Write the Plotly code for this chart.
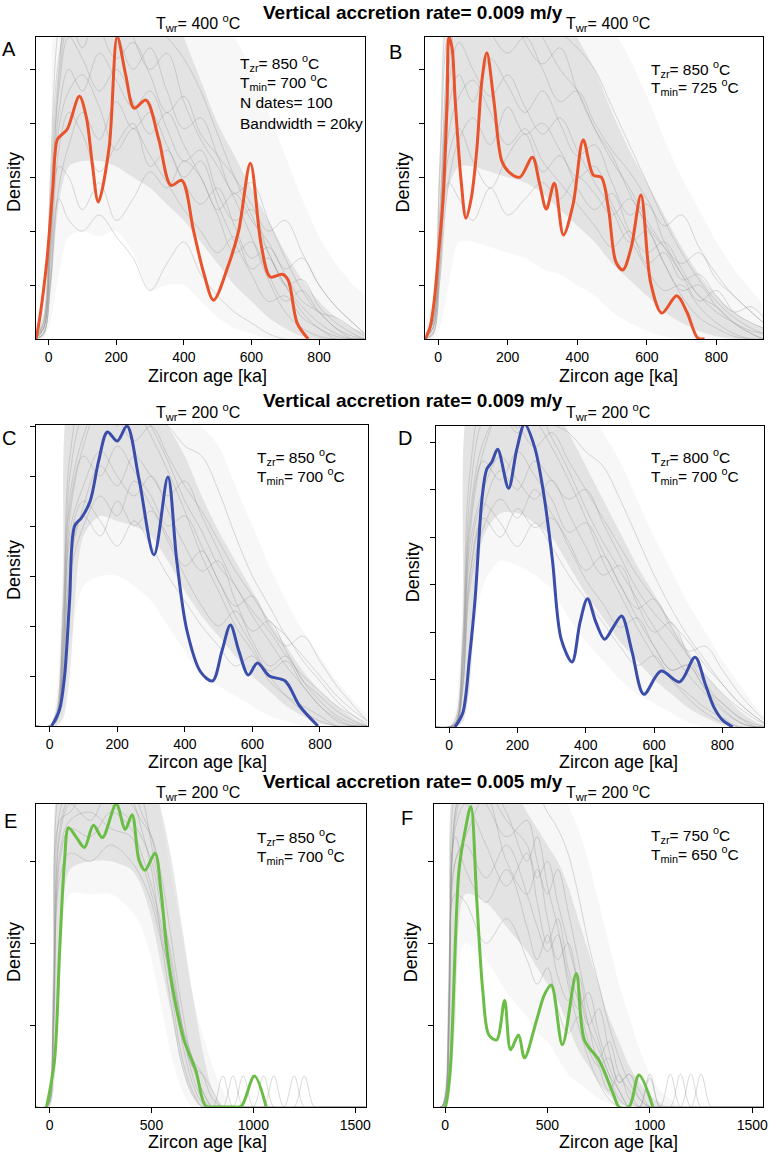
import plotly.graph_objects as go

W, H = 779, 1156
FONT = "Liberation Sans, Arial, Helvetica, sans-serif"
ORANGE = "#E9532B"
BLUE = "#3A4DAB"
GREEN = "#6ABD45"

# ---------------- x grids for the grey ensemble curves ----------------
AB_grid = [-40, -15, 5, 30, 60, 100, 150, 200, 250, 300, 350, 400, 450, 500, 550, 600, 650, 700, 750, 800, 850, 900, 935]
CD_grid = [-40, 0, 20, 40, 60, 100, 150, 200, 250, 300, 350, 400, 450, 500, 550, 600, 650, 700, 750, 800, 850, 900, 940]
EF_grid = [-70, -20, 0, 20, 50, 100, 200, 300, 400, 450, 500, 550, 600, 650, 700, 750, 800, 850, 900, 950, 1000, 1050, 1100, 1150, 1200, 1250, 1300, 1350, 1550]

# ---------------- panel A ----------------
A_x = [-38, -32, -6, 12, 26, 41, 56, 91, 112, 129, 147, 179, 203, 228, 253, 288, 326, 362, 394, 429, 460, 488, 532, 562, 597, 629, 656, 691, 709, 735, 768]
A_y = [0, 0.17, 1.4, 2.76, 3.7, 3.8, 3.9, 4.5, 4.1, 3.26, 2.54, 3.55, 5.6, 4.9, 4.28, 4.43, 3.7, 2.85, 2.94, 2.0, 1.2, 0.72, 1.37, 2.0, 3.26, 1.74, 1.15, 1.2, 1.09, 0.3, 0]
A_gray = [
    [0, 0.3, 2.5, 5.0, 6.2, 5.8, 6.5, 5.9, 6.3, 5.9, 5.6, 5.2, 4.6, 3.8, 3.0, 2.3, 1.6, 1.0, 0.6, 0.3, 0.1, 0, 0],
    [0, 0.2, 1.8, 4.2, 5.0, 4.6, 5.3, 4.8, 4.3, 4.6, 3.9, 3.3, 3.5, 2.7, 2.2, 2.4, 1.6, 1.0, 0.5, 0.2, 0.05, 0, 0],
    [0, 0.1, 1.2, 3.5, 4.2, 3.8, 3.1, 3.6, 4.0, 3.2, 3.5, 2.9, 2.5, 2.8, 2.1, 1.5, 1.7, 1.2, 0.7, 0.5, 0.2, 0.05, 0],
    [0, 0.4, 3.0, 5.8, 6.5, 6.8, 6.0, 6.4, 5.6, 5.0, 5.3, 4.4, 3.7, 3.2, 2.6, 1.9, 1.1, 0.5, 0.2, 0.05, 0, 0, 0],
    [0, 0.2, 1.5, 3.2, 3.0, 2.4, 2.9, 2.2, 2.6, 3.1, 2.8, 3.3, 3.0, 2.4, 2.7, 2.2, 1.8, 1.3, 1.5, 1.0, 0.6, 0.3, 0.1],
    [0, 0.3, 2.2, 4.6, 5.6, 5.2, 4.6, 5.0, 4.4, 3.8, 4.2, 3.6, 3.0, 2.3, 1.6, 1.8, 1.2, 0.7, 0.9, 0.5, 0.2, 0, 0],
    [0, 0.2, 1.9, 4.8, 6.0, 6.6, 5.8, 5.2, 5.5, 4.9, 4.2, 4.5, 3.8, 3.4, 3.0, 2.5, 2.0, 2.2, 1.6, 1.0, 0.6, 0.3, 0.1],
    [0, 0.1, 1.0, 2.8, 3.6, 4.2, 3.7, 4.4, 3.9, 4.2, 3.6, 3.0, 3.3, 2.5, 1.8, 1.2, 0.7, 0.8, 0.4, 0.2, 0, 0, 0],
    [0, 0.3, 2.6, 5.2, 5.9, 5.4, 6.2, 5.7, 5.0, 5.4, 4.6, 3.9, 4.1, 3.4, 2.7, 2.9, 2.2, 1.5, 0.9, 0.5, 0.4, 0.2, 0.05],
    [0, 0.2, 1.6, 3.9, 4.6, 4.9, 4.3, 3.5, 3.9, 3.4, 2.9, 2.4, 2.0, 1.6, 1.9, 1.3, 1.5, 1.0, 1.1, 0.6, 0.3, 0.1, 0],
    [0, 0.1, 1.0, 2.6, 2.2, 2.0, 2.3, 1.9, 1.5, 0.9, 1.4, 1.8, 1.2, 0.8, 0.5, 0.3, 0.1, 0, 0, 0, 0, 0, 0],
]
A_outer_lo = [0, 0, 0.3, 1.2, 1.9, 2.0, 1.9, 2.0, 1.6, 0.9, 1.0, 1.0, 0.7, 0.4, 0.2, 0.1, 0, 0, 0, 0, 0, 0, 0]
A_outer_hi = [0, 0.6, 3.0, 6.5, 6.5, 6.5, 6.5, 6.5, 6.5, 6.5, 6.5, 6.5, 6.5, 6.2, 5.6, 5.0, 4.2, 3.4, 2.6, 1.9, 1.4, 1.0, 0.8]
A_core_lo = [0, 0.05, 0.8, 2.5, 3.2, 3.3, 3.3, 3.2, 3.0, 2.8, 2.5, 2.2, 1.8, 1.4, 1.0, 0.7, 0.4, 0.2, 0.05, 0, 0, 0, 0]
A_core_hi = [0, 0.3, 2.0, 5.0, 6.5, 6.5, 6.5, 6.5, 6.5, 6.5, 6.5, 5.6, 4.8, 4.0, 3.4, 2.8, 2.2, 1.6, 1.1, 0.7, 0.4, 0.2, 0.1]

# ---------------- panel B ----------------
B_x = [-37, -23, -11, 0, 14, 26, 31, 40, 49, 66, 80, 95, 111, 126, 140, 160, 183, 203, 235, 271, 291, 311, 334, 360, 388, 417, 446, 469, 490, 511, 531, 555, 583, 611, 643, 686, 715, 746, 766]
B_y = [0, 0.22, 0.72, 1.5, 2.57, 4.43, 5.6, 5.4, 4.43, 2.94, 2.24, 2.6, 3.5, 4.8, 5.31, 4.43, 3.3, 3.1, 3.0, 3.37, 2.9, 2.41, 2.89, 1.93, 2.5, 3.69, 3.04, 3.0, 2.4, 1.43, 1.28, 1.7, 2.67, 1.04, 0.48, 0.8, 0.5, 0.02, 0]
B_gray = [
    [0, 0.4, 3.0, 5.8, 6.3, 5.9, 6.4, 5.8, 6.1, 5.6, 5.0, 4.6, 3.9, 3.3, 2.8, 2.2, 1.7, 1.2, 0.8, 0.5, 0.3, 0.15, 0.1],
    [0, 0.2, 1.8, 4.3, 4.9, 4.4, 5.2, 4.7, 4.2, 4.6, 4.0, 3.4, 3.6, 2.9, 2.3, 2.5, 1.8, 1.2, 0.7, 0.9, 0.5, 0.3, 0.2],
    [0, 0.1, 1.3, 3.4, 3.9, 3.3, 2.8, 3.4, 3.8, 3.1, 3.4, 2.8, 2.4, 2.7, 2.0, 1.6, 1.8, 1.3, 0.8, 0.6, 0.3, 0.1, 0],
    [0, 0.5, 3.3, 6.2, 6.6, 6.2, 5.7, 6.3, 5.5, 5.1, 5.4, 4.6, 3.9, 3.4, 2.7, 2.1, 1.4, 0.8, 0.4, 0.2, 0.05, 0, 0],
    [0, 0.2, 1.4, 2.9, 2.6, 2.2, 2.8, 2.3, 2.6, 2.9, 2.6, 3.0, 2.7, 2.3, 2.6, 2.1, 1.7, 1.4, 1.6, 1.1, 0.8, 0.5, 0.3],
    [0, 0.3, 2.2, 4.7, 5.5, 5.0, 4.5, 4.9, 4.3, 3.8, 4.1, 3.5, 2.9, 2.4, 1.8, 2.0, 1.4, 0.9, 1.0, 0.6, 0.3, 0.1, 0],
    [0, 0.3, 2.0, 5.0, 6.1, 6.5, 5.7, 5.3, 5.6, 5.0, 4.4, 4.6, 4.0, 3.5, 3.1, 2.6, 2.1, 2.3, 1.7, 1.2, 0.8, 0.5, 0.3],
    [0, 0.1, 1.1, 2.9, 3.7, 4.1, 3.6, 4.3, 3.8, 4.0, 3.5, 3.0, 3.2, 2.5, 1.9, 1.3, 0.9, 1.0, 0.6, 0.3, 0.1, 0, 0],
    [0, 0.2, 1.6, 3.8, 4.5, 4.8, 4.2, 3.6, 3.9, 3.3, 2.9, 2.5, 2.1, 1.7, 2.0, 1.4, 1.6, 1.1, 1.2, 0.8, 0.5, 0.6, 0.4],
    [0, 0.3, 2.4, 5.4, 6.4, 6.0, 6.6, 6.1, 6.4, 6.0, 5.7, 5.4, 5.0, 4.3, 3.6, 2.9, 2.2, 1.6, 1.1, 0.7, 0.4, 0.2, 0.1],
]
B_outer_lo = [0, 0, 0.2, 1.0, 1.8, 1.8, 1.7, 1.6, 1.5, 1.3, 1.2, 1.0, 0.8, 0.5, 0.3, 0.15, 0.05, 0, 0, 0, 0, 0, 0]
B_outer_hi = [0, 0.8, 3.5, 6.5, 6.5, 6.5, 6.5, 6.5, 6.5, 6.5, 6.5, 6.5, 6.5, 5.8, 5.2, 4.5, 3.7, 3.0, 2.4, 1.8, 1.3, 0.9, 0.6]
B_core_lo = [0, 0.05, 1.0, 2.8, 3.2, 3.2, 3.1, 3.0, 2.9, 2.7, 2.4, 2.1, 1.8, 1.4, 1.1, 0.8, 0.5, 0.3, 0.15, 0.05, 0, 0, 0]
B_core_hi = [0, 0.4, 2.5, 5.5, 6.5, 6.5, 6.5, 6.5, 6.5, 6.5, 6.5, 5.6, 5.0, 4.2, 3.5, 2.9, 2.3, 1.7, 1.2, 0.8, 0.5, 0.3, 0.2]

# ---------------- panel C ----------------
C_x = [6, 29, 44, 59, 74, 94, 120, 145, 171, 200, 229, 265, 309, 350, 376, 406, 447, 482, 510, 535, 560, 588, 615, 650, 697, 740, 794]
C_y = [0, 0.32, 0.98, 2.5, 4.0, 4.16, 4.5, 5.3, 5.88, 5.7, 6.0, 4.92, 3.42, 4.98, 3.32, 1.92, 1.08, 0.9, 1.5, 2.02, 1.5, 1.02, 1.26, 1.0, 0.9, 0.4, 0]
C_gray = [
    [0, 0, 0.2, 2.0, 4.6, 5.8, 6.5, 6.1, 6.6, 6.0, 5.3, 4.5, 3.9, 3.2, 2.8, 2.2, 1.7, 1.2, 0.8, 0.4, 0.15, 0, 0],
    [0, 0, 0.1, 1.5, 3.9, 4.8, 5.5, 5.0, 4.6, 5.0, 4.3, 3.6, 3.1, 3.3, 2.5, 1.9, 2.1, 1.5, 0.9, 0.5, 0.2, 0.05, 0],
    [0, 0, 0.1, 1.2, 3.4, 4.2, 3.8, 4.5, 4.0, 4.3, 3.7, 3.0, 2.4, 2.0, 2.3, 1.7, 1.2, 1.4, 0.9, 0.6, 0.3, 0.1, 0],
    [0, 0, 0.3, 2.5, 5.4, 6.6, 6.2, 6.8, 6.4, 5.8, 5.1, 4.3, 3.4, 2.7, 2.0, 1.5, 1.0, 0.6, 0.3, 0.1, 0, 0, 0],
    [0, 0, 0.1, 1.0, 3.0, 4.0, 4.6, 4.2, 4.9, 4.4, 3.8, 3.2, 3.5, 2.9, 2.4, 2.6, 2.0, 1.6, 1.8, 1.3, 0.8, 0.4, 0.1],
    [0, 0, 0.2, 1.8, 4.4, 5.4, 5.0, 5.6, 5.1, 4.6, 4.0, 4.2, 3.6, 2.9, 2.2, 1.6, 1.1, 1.3, 0.8, 0.4, 0.1, 0, 0],
    [0, 0, 0.2, 2.2, 5.0, 6.3, 6.8, 6.2, 5.7, 6.0, 5.4, 4.8, 4.3, 3.7, 3.1, 2.6, 2.1, 1.8, 1.3, 0.9, 0.5, 0.2, 0],
    [0, 0, 0.1, 1.4, 3.7, 4.5, 4.1, 3.6, 4.1, 3.6, 3.0, 2.5, 2.0, 1.6, 1.2, 1.4, 0.9, 0.6, 0.4, 0.2, 0, 0, 0],
    [0, 0, 0.1, 1.1, 3.2, 4.4, 5.2, 4.8, 5.4, 5.0, 4.6, 4.9, 4.2, 3.5, 2.8, 2.3, 1.9, 1.4, 1.0, 0.7, 0.4, 0.2, 0.05],
    [0, 0, 0.1, 1.6, 4.2, 5.6, 6.4, 6.0, 6.5, 6.2, 6.0, 5.6, 5.4, 4.7, 3.8, 3.0, 2.4, 1.8, 1.4, 1.0, 0.6, 0.3, 0.1],
]
C_outer_lo = [0, 0, 0, 0.3, 1.5, 2.8, 3.0, 3.0, 2.8, 2.5, 2.0, 1.5, 1.0, 0.8, 0.6, 0.4, 0.2, 0.1, 0, 0, 0, 0, 0]
C_outer_hi = [0, 0, 0.6, 3.5, 6.5, 6.5, 6.5, 6.5, 6.5, 6.5, 6.5, 6.5, 6.0, 5.6, 4.8, 4.0, 3.2, 2.5, 1.9, 1.4, 0.9, 0.5, 0.2]
C_core_lo = [0, 0, 0, 0.15, 1.0, 3.8, 4.2, 4.1, 4.0, 3.8, 3.3, 2.7, 2.2, 1.8, 1.4, 1.0, 0.7, 0.4, 0.2, 0.05, 0, 0, 0]
C_core_hi = [0, 0, 0.3, 2.5, 6.5, 6.5, 6.5, 6.5, 6.5, 6.5, 6.0, 5.4, 4.6, 3.9, 3.3, 2.7, 2.1, 1.6, 1.1, 0.7, 0.4, 0.15, 0]

# ---------------- panel D ----------------
D_x = [17, 40, 60, 76, 96, 110, 125, 142, 174, 198, 221, 250, 276, 302, 328, 360, 383, 405, 430, 455, 480, 505, 535, 570, 620, 675, 720, 750, 775, 800, 830]
D_y = [0, 0.3, 1.5, 2.7, 4.8, 5.43, 5.58, 5.85, 5.03, 5.85, 6.38, 5.9, 4.95, 3.54, 1.85, 1.37, 2.2, 2.7, 2.2, 1.85, 2.1, 2.34, 1.6, 0.69, 1.18, 0.95, 1.47, 0.9, 0.42, 0.15, 0]
D_gray = [
    [0, 0, 0.1, 1.6, 4.4, 6.0, 6.6, 6.2, 6.7, 6.1, 5.4, 4.6, 3.9, 3.3, 2.7, 2.1, 1.6, 1.1, 0.7, 0.35, 0.1, 0, 0],
    [0, 0, 0.1, 1.2, 3.8, 5.0, 5.7, 5.2, 4.8, 5.2, 4.5, 3.8, 3.2, 3.4, 2.6, 2.0, 2.2, 1.5, 0.9, 0.5, 0.2, 0.05, 0],
    [0, 0, 0.05, 0.9, 3.2, 4.4, 4.0, 4.6, 4.2, 4.4, 3.8, 3.1, 2.6, 2.1, 2.3, 1.7, 1.2, 1.3, 0.8, 0.5, 0.2, 0, 0],
    [0, 0, 0.2, 2.0, 5.3, 6.8, 6.4, 6.9, 6.5, 5.9, 5.2, 4.4, 3.5, 2.8, 2.1, 1.5, 1.0, 0.6, 0.3, 0.1, 0, 0, 0],
    [0, 0, 0.05, 0.8, 2.9, 4.2, 4.8, 4.4, 5.0, 4.5, 3.9, 3.3, 3.6, 3.0, 2.5, 2.7, 2.1, 1.6, 1.7, 1.2, 0.7, 0.3, 0.05],
    [0, 0, 0.1, 1.4, 4.2, 5.6, 5.2, 5.8, 5.3, 4.8, 4.1, 4.3, 3.7, 3.0, 2.3, 1.7, 1.2, 1.3, 0.8, 0.4, 0.1, 0, 0],
    [0, 0, 0.1, 1.7, 4.8, 6.5, 6.9, 6.4, 5.9, 6.2, 5.6, 5.0, 4.4, 3.8, 3.2, 2.7, 2.2, 1.8, 1.3, 0.9, 0.5, 0.2, 0],
    [0, 0, 0.05, 1.0, 3.5, 4.7, 4.3, 3.8, 4.3, 3.8, 3.2, 2.7, 2.2, 1.7, 1.3, 1.5, 1.0, 0.7, 0.4, 0.2, 0, 0, 0],
    [0, 0, 0.05, 0.9, 3.1, 4.6, 5.4, 5.0, 5.6, 5.2, 4.8, 5.0, 4.3, 3.6, 2.9, 2.4, 2.0, 1.5, 1.1, 0.7, 0.4, 0.15, 0],
    [0, 0, 0.1, 1.3, 4.0, 5.8, 6.6, 6.3, 6.8, 6.4, 6.2, 5.8, 5.5, 4.8, 4.0, 3.2, 2.5, 1.9, 1.4, 0.9, 0.5, 0.2, 0],
]
D_outer_lo = [0, 0, 0, 0.2, 1.2, 3.0, 3.5, 3.4, 3.2, 2.9, 2.3, 1.8, 1.4, 1.0, 0.7, 0.5, 0.3, 0.1, 0, 0, 0, 0, 0]
D_outer_hi = [0, 0, 0.4, 3.0, 6.8, 6.8, 6.8, 6.8, 6.8, 6.8, 6.8, 6.8, 6.2, 5.6, 4.8, 4.0, 3.3, 2.6, 2.0, 1.4, 0.9, 0.4, 0.1]
D_core_lo = [0, 0, 0, 0.1, 0.8, 4.0, 4.5, 4.5, 4.3, 4.0, 3.4, 2.8, 2.3, 1.8, 1.4, 1.0, 0.7, 0.4, 0.2, 0.05, 0, 0, 0]
D_core_hi = [0, 0, 0.2, 2.0, 6.8, 6.8, 6.8, 6.8, 6.8, 6.8, 6.2, 5.5, 4.8, 4.1, 3.4, 2.8, 2.2, 1.6, 1.1, 0.7, 0.35, 0.1, 0]

# ---------------- panel E ----------------
E_x = [-15, 24, 49, 73, 93, 132, 171, 215, 259, 327, 371, 405, 439, 468, 517, 546, 576, 615, 659, 717, 766, 810, 854, 900, 941, 1005, 1063]
E_y = [0, 0.57, 1.9, 3.0, 3.41, 3.29, 3.17, 3.44, 3.29, 3.7, 3.39, 3.57, 3.01, 2.89, 3.1, 2.65, 1.91, 1.3, 0.82, 0.45, 0.01, 0, 0, 0, 0.01, 0.38, 0]
E_gray = [
    [0, 0, 0.1, 1.5, 3.6, 3.9, 4.1, 3.9, 4.0, 3.8, 3.2, 2.5, 1.7, 1.0, 0.5, 0.2, 0, 0, 0, 0, 0, 0, 0, 0, 0, 0, 0, 0, 0],
    [0, 0, 0.05, 1.0, 3.0, 3.4, 3.3, 3.6, 3.4, 3.1, 2.7, 2.2, 1.5, 0.8, 0.3, 0.05, 0, 0.38, 0, 0, 0, 0, 0, 0, 0, 0, 0, 0, 0],
    [0, 0, 0.1, 1.3, 3.3, 3.7, 3.5, 3.9, 3.7, 3.5, 3.3, 2.8, 2.0, 1.2, 0.6, 0.4, 0.1, 0, 0, 0.38, 0, 0, 0, 0, 0, 0, 0, 0, 0],
    [0, 0, 0.15, 1.8, 3.9, 4.1, 3.8, 4.2, 3.8, 3.4, 2.9, 2.0, 1.2, 0.5, 0.15, 0, 0, 0, 0, 0, 0, 0, 0.38, 0, 0, 0, 0, 0, 0],
    [0, 0, 0.05, 0.9, 2.8, 3.1, 3.0, 3.2, 3.0, 2.8, 2.5, 2.0, 1.6, 1.0, 0.6, 0.2, 0, 0, 0, 0, 0, 0, 0, 0, 0.38, 0, 0, 0, 0],
    [0, 0, 0.1, 1.2, 3.4, 3.8, 4.0, 3.7, 3.5, 3.3, 3.0, 2.4, 1.8, 1.0, 0.4, 0.1, 0, 0, 0.38, 0, 0, 0, 0, 0, 0, 0, 0, 0, 0],
    [0, 0, 0.1, 1.4, 3.5, 3.6, 3.9, 3.8, 3.9, 3.6, 3.3, 2.6, 1.4, 0.6, 0.2, 0, 0, 0, 0, 0, 0, 0, 0, 0, 0, 0.38, 0, 0, 0],
    [0, 0, 0.05, 1.1, 3.1, 3.5, 3.6, 3.4, 3.3, 3.0, 2.6, 2.1, 1.4, 0.9, 0.5, 0.4, 0.2, 0, 0, 0, 0, 0.38, 0, 0, 0, 0, 0, 0, 0],
]
E_outer_lo = [0, 0, 0, 0.5, 2.0, 2.6, 2.6, 2.6, 2.4, 2.2, 1.8, 1.2, 0.6, 0.2, 0, 0, 0, 0, 0, 0, 0, 0, 0, 0, 0, 0, 0, 0, 0]
E_outer_hi = [0, 0, 0.3, 2.0, 4.0, 4.0, 4.0, 4.0, 4.0, 4.0, 4.0, 3.5, 2.8, 2.1, 1.4, 0.9, 0.5, 0.2, 0, 0, 0, 0, 0, 0, 0, 0, 0, 0, 0]
E_core_lo = [0, 0, 0, 0.2, 1.5, 2.9, 3.0, 3.0, 2.9, 2.7, 2.3, 1.7, 1.1, 0.5, 0.15, 0, 0, 0, 0, 0, 0, 0, 0, 0, 0, 0, 0, 0, 0]
E_core_hi = [0, 0, 0.15, 1.5, 4.0, 4.0, 4.0, 4.0, 4.0, 4.0, 4.0, 3.6, 3.0, 2.2, 1.4, 0.7, 0.2, 0, 0, 0, 0, 0, 0, 0, 0, 0, 0, 0, 0]

# ---------------- panel F ----------------
F_x = [-10, 0, 24, 68, 100, 126, 155, 184, 214, 252, 291, 320, 359, 388, 447, 485, 519, 573, 641, 680, 752, 820, 850, 898, 947, 1015]
F_y = [0, 0, 0.41, 2.89, 3.4, 3.67, 2.52, 1.43, 0.88, 0.82, 1.3, 0.7, 0.88, 0.6, 1.06, 1.37, 1.49, 0.76, 1.63, 0.82, 0.57, 0.17, 0, 0, 0.39, 0]
F_gray = [
    [0, 0, 0.1, 1.4, 3.6, 4.0, 3.7, 3.3, 3.5, 3.0, 2.6, 2.9, 2.4, 1.8, 1.2, 0.8, 0.4, 0.2, 0, 0, 0, 0, 0, 0, 0, 0, 0, 0, 0],
    [0, 0, 0.05, 1.0, 3.0, 3.3, 3.8, 3.0, 2.6, 2.9, 2.3, 1.8, 2.0, 1.5, 1.0, 1.2, 0.7, 0.3, 0.4, 0.1, 0, 0, 0, 0, 0, 0, 0, 0, 0],
    [0, 0, 0.1, 1.3, 3.3, 2.9, 2.5, 2.9, 2.2, 1.8, 2.1, 1.6, 1.3, 1.6, 1.0, 0.6, 0.8, 0.4, 0.2, 0, 0.4, 0, 0, 0, 0, 0, 0, 0, 0],
    [0, 0, 0.15, 1.8, 3.9, 4.2, 4.0, 3.6, 3.0, 3.3, 2.7, 2.2, 1.6, 1.2, 1.4, 0.9, 0.5, 0.2, 0, 0, 0, 0, 0.4, 0, 0, 0, 0, 0, 0],
    [0, 0, 0.05, 0.8, 2.6, 2.5, 2.0, 2.3, 1.8, 1.5, 1.7, 1.2, 0.9, 1.1, 0.7, 0.5, 0.6, 0.3, 0.4, 0.2, 0, 0, 0, 0, 0.4, 0, 0, 0, 0],
    [0, 0, 0.1, 1.2, 3.4, 3.7, 3.2, 2.7, 3.1, 2.5, 2.0, 2.3, 1.7, 1.3, 0.8, 0.5, 0.2, 0.4, 0.1, 0, 0, 0, 0, 0, 0, 0.4, 0, 0, 0],
    [0, 0, 0.1, 1.5, 3.6, 4.1, 3.9, 3.5, 3.2, 2.8, 3.0, 2.5, 2.0, 1.5, 1.0, 0.7, 0.4, 0.1, 0, 0, 0, 0, 0, 0.4, 0, 0, 0, 0, 0],
    [0, 0, 0.05, 1.0, 3.0, 3.2, 2.8, 3.2, 2.6, 2.2, 1.9, 2.1, 1.5, 1.0, 0.6, 0.3, 0.1, 0, 0, 0, 0.35, 0, 0, 0, 0, 0, 0, 0, 0],
    [0, 0, 0.1, 1.3, 3.5, 3.9, 4.1, 3.9, 3.7, 3.8, 3.6, 3.4, 3.1, 2.6, 2.0, 1.5, 1.0, 0.6, 0.3, 0.1, 0, 0, 0, 0, 0, 0, 0, 0, 0],
]
F_outer_lo = [0, 0, 0, 0.3, 1.5, 2.0, 1.8, 1.4, 1.1, 0.9, 0.8, 0.6, 0.4, 0.3, 0.2, 0.1, 0.05, 0, 0, 0, 0, 0, 0, 0, 0, 0, 0, 0, 0]
F_outer_hi = [0, 0, 0.3, 2.0, 4.0, 4.0, 4.0, 4.0, 4.0, 4.0, 4.0, 4.0, 3.7, 3.4, 3.0, 2.5, 2.0, 1.5, 1.1, 0.7, 0.4, 0.2, 0.1, 0, 0, 0, 0, 0, 0]
F_core_lo = [0, 0, 0, 0.15, 1.0, 2.6, 2.5, 2.2, 1.9, 1.7, 1.5, 1.3, 1.0, 0.7, 0.5, 0.3, 0.15, 0.05, 0, 0, 0, 0, 0, 0, 0, 0, 0, 0, 0]
F_core_hi = [0, 0, 0.15, 1.5, 4.0, 4.0, 4.0, 4.0, 3.6, 3.4, 3.2, 3.0, 2.7, 2.3, 1.9, 1.5, 1.1, 0.8, 0.5, 0.3, 0.15, 0.05, 0, 0, 0, 0, 0, 0, 0]

# ---------------- texts ----------------
row_titles = ["Vertical accretion rate= 0.009 m/y", "Vertical accretion rate= 0.009 m/y", "Vertical accretion rate= 0.005 m/y"]
twr_texts = ["T<sub>wr</sub>= 400 <sup>o</sup>C", "T<sub>wr</sub>= 200 <sup>o</sup>C", "T<sub>wr</sub>= 200 <sup>o</sup>C"]
panel_letters = ["A", "B", "C", "D", "E", "F"]
panel_notes = [
    ["T<sub>zr</sub>= 850 <sup>o</sup>C", "T<sub>min</sub>= 700 <sup>o</sup>C", "N dates= 100", "Bandwidth = 20ky"],
    ["T<sub>zr</sub>= 850 <sup>o</sup>C", "T<sub>min</sub>= 725 <sup>o</sup>C"],
    ["T<sub>zr</sub>= 850 <sup>o</sup>C", "T<sub>min</sub>= 700 <sup>o</sup>C"],
    ["T<sub>zr</sub>= 800 <sup>o</sup>C", "T<sub>min</sub>= 700 <sup>o</sup>C"],
    ["T<sub>zr</sub>= 850 <sup>o</sup>C", "T<sub>min</sub>= 700 <sup>o</sup>C"],
    ["T<sub>zr</sub>= 750 <sup>o</sup>C", "T<sub>min</sub>= 650 <sup>o</sup>C"],
]
xticks_small = [0, 200, 400, 600, 800]
xticks_large = [0, 500, 1000, 1500]

panels = [
    dict(grid=AB_grid, gray=A_gray, outer=(A_outer_lo, A_outer_hi), core=(A_core_lo, A_core_hi), x=A_x, y=A_y, color=ORANGE,
         box=(36, 367, 37, 339), xr=[-38, 935], yr=[0, 5.6], yt=[1, 2, 3, 4, 5], xt=xticks_small,
         letter=(9, 49), note=(240, [63, 82, 103, 123]), dens=(14, 182)),
    dict(grid=AB_grid, gray=B_gray, outer=(B_outer_lo, B_outer_hi), core=(B_core_lo, B_core_hi), x=B_x, y=B_y, color=ORANGE,
         box=(428, 768, 37, 339), xr=[-37, 934], yr=[0, 5.6], yt=[1, 2, 3, 4, 5], xt=xticks_small,
         letter=(398, 52), note=(653, [69, 87]), dens=(406, 182)),
    dict(grid=CD_grid, gray=C_gray, outer=(C_outer_lo, C_outer_hi), core=(C_core_lo, C_core_hi), x=C_x, y=C_y, color=BLUE,
         box=(36, 370, 425, 726), xr=[-41, 941], yr=[0, 6.02], yt=[1, 2, 3, 4, 5, 6], xt=xticks_small,
         letter=(9, 438), note=(257, [457, 476]), dens=(14, 570)),
    dict(grid=CD_grid, gray=D_gray, outer=(D_outer_lo, D_outer_hi), core=(D_core_lo, D_core_hi), x=D_x, y=D_y, color=BLUE,
         box=(439, 769, 426, 727), xr=[-38, 922], yr=[0, 6.34], yt=[1, 2, 3, 4, 5, 6], xt=xticks_small,
         letter=(408, 438), note=(653, [457, 476]), dens=(416, 572)),
    dict(grid=EF_grid, gray=E_gray, outer=(E_outer_lo, E_outer_hi), core=(E_core_lo, E_core_hi), x=E_x, y=E_y, color=GREEN,
         box=(36, 368, 804, 1107), xr=[-68, 1551], yr=[0, 3.7], yt=[1, 2, 3], xt=xticks_large,
         letter=(11, 821), note=(257, [837, 856]), dens=(14, 952)),
    dict(grid=EF_grid, gray=F_gray, outer=(F_outer_lo, F_outer_hi), core=(F_core_lo, F_core_hi), x=F_x, y=F_y, color=GREEN,
         box=(437, 768, 804, 1107), xr=[-53, 1553], yr=[0, 3.7], yt=[1, 2, 3], xt=xticks_large,
         letter=(410, 818), note=(653, [835, 854]), dens=(414, 952)),
]

fig = go.Figure()
layout = dict(width=W, height=H, margin=dict(l=0, r=0, t=0, b=0), showlegend=False,
              paper_bgcolor="white", plot_bgcolor="white", font=dict(family=FONT, color="black"))
annotations = []


def px(x, y):
    return x / W, 1 - y / H


def ann(text, x, y, size, xanchor="center", yanchor="middle", angle=0):
    xx, yy = px(x, y)
    annotations.append(dict(text=text, x=xx, y=yy, xref="paper", yref="paper", showarrow=False,
                            xanchor=xanchor, yanchor=yanchor, textangle=angle,
                            font=dict(size=size, family=FONT, color="black")))


for i, p in enumerate(panels, start=1):
    xs = "x" if i == 1 else f"x{i}"
    ys = "y" if i == 1 else f"y{i}"
    grid = p["grid"]
    # grey envelope of the ensemble (very light outer, denser core)
    for (lo, hi), col in ((p["outer"], "rgba(235,235,235,0.4)"), (p["core"], "rgba(200,200,200,0.42)")):
        fig.add_trace(go.Scatter(x=grid + grid[::-1], y=hi + lo[::-1], fill="toself", fillcolor=col,
                                 mode="lines", line=dict(width=0, shape="spline", smoothing=0.8),
                                 xaxis=xs, yaxis=ys, hoverinfo="skip"))
    for g in p["gray"]:
        fig.add_trace(go.Scatter(x=grid, y=g, mode="lines",
                                 line=dict(color="rgba(150,150,150,0.5)", width=0.7, shape="spline", smoothing=1.0),
                                 xaxis=xs, yaxis=ys, hoverinfo="skip"))
    fig.add_trace(go.Scatter(x=p["x"], y=p["y"], mode="lines",
                             line=dict(color=p["color"], width=3, shape="spline", smoothing=0.9),
                             xaxis=xs, yaxis=ys))
    l, r, t, b = p["box"]
    axis_common = dict(showline=True, mirror=True, linecolor="black", linewidth=1, ticks="outside",
                       ticklen=5, tickwidth=1, tickcolor="black", showgrid=False, zeroline=False)
    layout["xaxis" if i == 1 else f"xaxis{i}"] = dict(
        domain=[l / W, r / W], range=p["xr"], anchor=ys, tickvals=p["xt"],
        tickfont=dict(size=14, family=FONT, color="black"), **axis_common)
    layout["yaxis" if i == 1 else f"yaxis{i}"] = dict(
        domain=[1 - b / H, 1 - t / H], range=p["yr"], anchor=xs, tickvals=p["yt"],
        showticklabels=False, **axis_common)
    ann(panel_letters[i - 1], p["letter"][0], p["letter"][1], 20)
    nx, nys = p["note"]
    for txt, ny in zip(panel_notes[i - 1], nys):
        ann(txt, nx, ny, 15.5, xanchor="left")
    ann("Density", p["dens"][0], p["dens"][1], 18, angle=-90)

# row titles, Twr subtitles, x-axis titles
row_y = [12, 401, 781]
twr_y = [23, 412, 792]
xlab_y = [376, 762, 1142]
for k in range(3):
    ann("<b>" + row_titles[k] + "</b>", 416, row_y[k], 19)
    ann(twr_texts[k], 199, twr_y[k], 16)
    ann(twr_texts[k], 612, twr_y[k], 16)
    ann("Zircon age [ka]", 209, xlab_y[k], 18)
    ann("Zircon age [ka]", 622, xlab_y[k], 18)

layout["annotations"] = annotations
fig.update_layout(**layout)
# remove the browser's default 8px body margin so the figure sits at the window origin
fig.write_html("out.html", config={"displayModeBar": False},
               post_script="document.body.style.margin='0px';document.body.style.overflow='hidden';")
